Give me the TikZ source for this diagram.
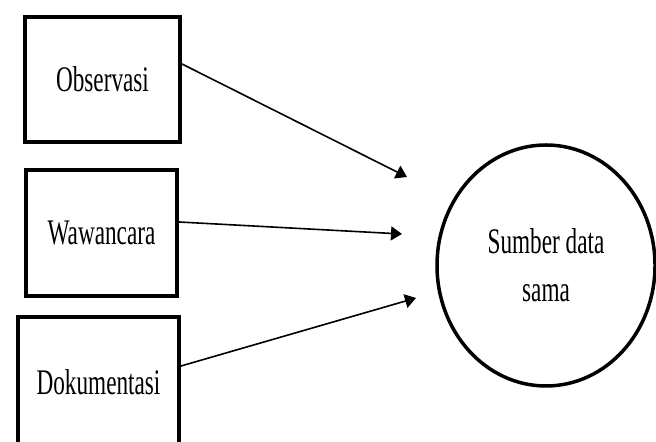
\documentclass[tikz,border=0pt]{standalone}
\usepackage{graphicx}
\usepackage{fontspec}
\setmainfont{Liberation Serif}
\usetikzlibrary{shapes.geometric,arrows.meta}
\newcommand{\narrow}[1]{\scalebox{0.645}[1]{#1}}

\begin{document}
\begin{tikzpicture}[
    x=0.5pt,y=0.5pt,
    box/.style={draw,black,line width=2pt,rectangle,inner sep=0pt,font=\fontsize{18}{24}\selectfont},
    blob/.style={draw,black,line width=1.75pt,ellipse,inner sep=0pt,minimum width=109pt,minimum height=120.5pt,align=center,font=\fontsize{18}{24}\selectfont},
    arr/.style={-{Triangle[length=5.5pt,width=7pt]},line width=0.8pt}
    ]
    \useasboundingbox (0,0) rectangle (656,442);
    \clip (0,0) rectangle (656,442);
    \node[box,minimum width=77.5pt,minimum height=62.5pt] (obs) at (102.5,362.5) {\narrow{Observasi}};
    \node[box,minimum width=75.5pt,minimum height=63pt] (waw) at (101.5,209) {\narrow{Wawancara}};
    \node[box,minimum width=80.5pt,minimum height=65pt] (dok) at (98.5,60) {\narrow{Dokumentasi}};
    \node[blob] (sum) at (546,176.5) {\narrow{Sumber data}\\\narrow{sama}};
    \coordinate (t1) at (407,265);
    \coordinate (t2) at (402,208);
    \coordinate (t3) at (416,144);
    \draw[arr] ([yshift=7.75pt]obs.east) -- (t1);
    \draw[arr] ([yshift=5.5pt]waw.east) -- (t2);
    \draw[arr] ([yshift=8pt]dok.east) -- (t3);
  \end{tikzpicture}
\end{document}
